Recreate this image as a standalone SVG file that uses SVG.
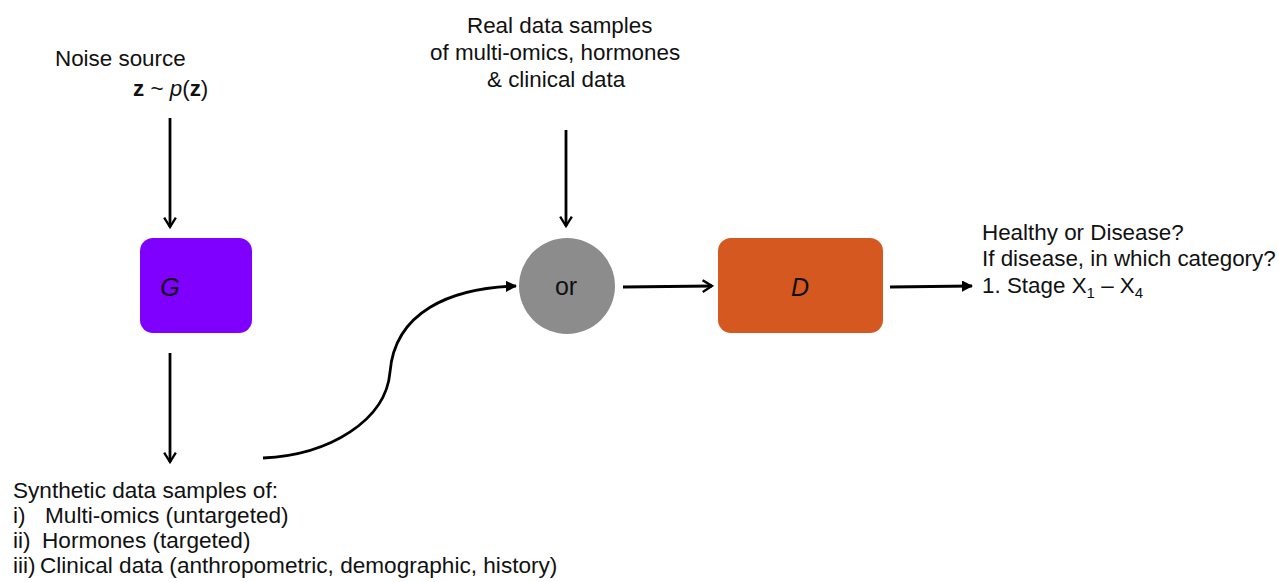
<svg xmlns="http://www.w3.org/2000/svg" width="1279" height="582" viewBox="0 0 1279 582">
<style>
text{font-family:"Liberation Sans",Arial,sans-serif;fill:#111;}
.t{font-size:22.4px;}
.b{font-size:22.6px;}
.n{font-size:25px;}
.c{stroke:#000;stroke-width:2.8;fill:none;}
</style>
<defs>
<marker id="open" viewBox="0 0 12 12" refX="10" refY="6" markerWidth="5" markerHeight="5" orient="auto" markerUnits="strokeWidth">
<path d="M2,1 L10,6 L2,11" fill="none" stroke="#000" stroke-width="2"/>
</marker>
<marker id="fill" viewBox="0 0 10 10" refX="9" refY="5" markerWidth="4" markerHeight="4" orient="auto" markerUnits="strokeWidth">
<path d="M0,0 L10,5 L0,10 Z" fill="#000"/>
</marker>
</defs>
<rect width="1279" height="582" fill="#fff"/>
<g id="noise">
<text class="t" x="55" y="66">Noise source</text>
<text class="t" x="133" y="96"><tspan font-weight="bold">z</tspan> ~ <tspan font-style="italic">p</tspan>(<tspan font-weight="bold">z</tspan>)</text>
</g>
<g id="real">
<text class="t" x="467" y="33">Real data samples</text>
<text class="t" x="430" y="60">of multi-omics, hormones</text>
<text class="t" x="487" y="87">&amp; clinical data</text>
</g>
<g id="G">
<rect x="140" y="238" width="112" height="95" rx="13" fill="#7F00FF"/>
<text class="n" x="170" y="296" text-anchor="middle" font-style="italic">G</text>
</g>
<g id="or">
<circle cx="567" cy="286" r="48" fill="#8C8C8C"/>
<text class="n" x="566" y="295" text-anchor="middle">or</text>
</g>
<g id="D">
<rect x="718" y="238" width="165" height="95" rx="13" fill="#D4581F"/>
<text class="n" x="800" y="296" text-anchor="middle" font-style="italic">D</text>
</g>
<g id="output">
<text class="t" x="982" y="240">Healthy or Disease?</text>
<text class="t" x="982" y="266">If disease, in which category?</text>
<text class="t" x="982" y="293">1. Stage X<tspan font-size="15" dy="5">1</tspan><tspan dy="-5"> – X</tspan><tspan font-size="15" dy="5">4</tspan></text>
</g>
<g id="synthetic">
<text class="b" x="13" y="498">Synthetic data samples of:</text>
<text class="b" x="13" y="523">i)<tspan x="45">Multi-omics (untargeted)</tspan></text>
<text class="b" x="13" y="548">ii)<tspan x="42">Hormones (targeted)</tspan></text>
<text class="b" x="13" y="573">iii)<tspan x="40">Clinical data (anthropometric, demographic, history)</tspan></text>
</g>
<g id="connectors">
<path class="c" d="M170,118 L170,227" marker-end="url(#open)"/>
<path class="c" d="M566,130 L566,226" marker-end="url(#open)"/>
<path class="c" d="M170,353 L170,462" marker-end="url(#open)"/>
<path class="c" d="M263,458 C330,455 386,420 390,372 C395,312 450,288 516,286" marker-end="url(#fill)"/>
<path class="c" d="M623,287 L712,286" marker-end="url(#open)"/>
<path class="c" d="M890,287 L972,286" marker-end="url(#fill)"/>
</g>
</svg>
